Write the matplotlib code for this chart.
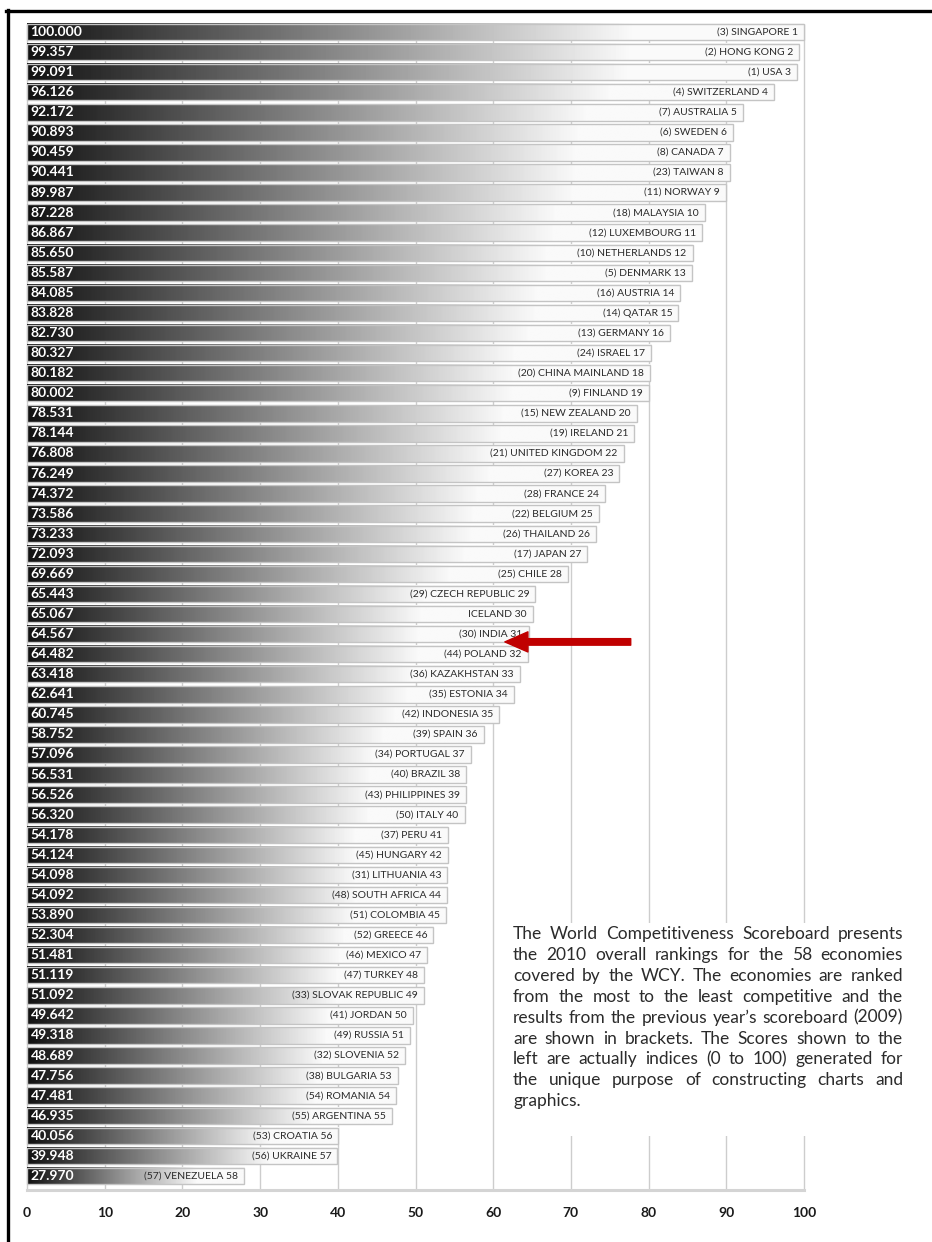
import numpy as np
import matplotlib
matplotlib.use("Agg")
import matplotlib.pyplot as plt
from matplotlib.patches import Rectangle
from matplotlib.lines import Line2D

plt.rcParams['font.family'] = ['Lato', 'DejaVu Sans']

# 2010 WCY overall scoreboard
scores = [100.000, 99.357, 99.091, 96.126, 92.172, 90.893, 90.459, 90.441, 89.987, 87.228,
          86.867, 85.650, 85.587, 84.085, 83.828, 82.730, 80.327, 80.182, 80.002, 78.531,
          78.144, 76.808, 76.249, 74.372, 73.586, 73.233, 72.093, 69.669, 65.443, 65.067,
          64.567, 64.482, 63.418, 62.641, 60.745, 58.752, 57.096, 56.531, 56.526, 56.320,
          54.178, 54.124, 54.098, 54.092, 53.890, 52.304, 51.481, 51.119, 51.092, 49.642,
          49.318, 48.689, 47.756, 47.481, 46.935, 40.056, 39.948, 27.970]
countries = ["SINGAPORE", "HONG KONG", "USA", "SWITZERLAND", "AUSTRALIA", "SWEDEN", "CANADA",
             "TAIWAN", "NORWAY", "MALAYSIA", "LUXEMBOURG", "NETHERLANDS", "DENMARK", "AUSTRIA",
             "QATAR", "GERMANY", "ISRAEL", "CHINA MAINLAND", "FINLAND", "NEW ZEALAND", "IRELAND",
             "UNITED KINGDOM", "KOREA", "FRANCE", "BELGIUM", "THAILAND", "JAPAN", "CHILE",
             "CZECH REPUBLIC", "ICELAND", "INDIA", "POLAND", "KAZAKHSTAN", "ESTONIA", "INDONESIA",
             "SPAIN", "PORTUGAL", "BRAZIL", "PHILIPPINES", "ITALY", "PERU", "HUNGARY", "LITHUANIA",
             "SOUTH AFRICA", "COLOMBIA", "GREECE", "MEXICO", "TURKEY", "SLOVAK REPUBLIC", "JORDAN",
             "RUSSIA", "SLOVENIA", "BULGARIA", "ROMANIA", "ARGENTINA", "CROATIA", "UKRAINE",
             "VENEZUELA"]
# 2009 rank in brackets (Iceland had none)
prev_ranks = [3, 2, 1, 4, 7, 6, 8, 23, 11, 18, 12, 10, 5, 16, 14, 13, 24, 20, 9, 15, 19, 21,
              27, 28, 22, 26, 17, 25, 29, None, 30, 44, 36, 35, 42, 39, 34, 40, 43, 50, 37, 45,
              31, 48, 51, 52, 46, 47, 33, 41, 49, 32, 38, 54, 55, 53, 56, 57]

ticks = list(range(0, 101, 10))

blurb_lines = [
    "The World Competitiveness Scoreboard presents",
    "the 2010 overall rankings for the 58 economies",
    "covered by the WCY. The economies are ranked",
    "from the most to the least competitive and the",
    "results from the previous year\u2019s scoreboard (2009)",
    "are shown in brackets. The Scores shown to the",
    "left are actually indices (0 to 100) generated for",
    "the unique purpose of constructing charts and",
    "graphics.",
]

W, H = 932, 1242
fig = plt.figure(figsize=(W / 100, H / 100), dpi=100)
ax = fig.add_axes([27 / W, 1 - 1190 / H, 777 / W, 1168 / H])

rows = np.arange(len(scores))
bar_h = 0.82
y_top, y_bot = -0.498, 57.7

# dark-to-white ramp, stretched over each bar
ramp = np.clip(0.07 + 0.93 * np.linspace(0, 1, 256) / 0.8, 0, 0.98)[None, :]
for y, v in zip(rows, scores):
    ax.imshow(ramp, extent=(0, v, y + bar_h / 2, y - bar_h / 2), aspect='auto',
              cmap='gray', vmin=0, vmax=1, interpolation='bilinear', zorder=2)
ax.barh(rows, scores, height=bar_h, fill=False, edgecolor='#c4c4c4', linewidth=1,
        zorder=3, clip_on=False)

# grid
ax.vlines(ticks, -bar_h / 2, y_bot, colors='#cdcdcd', linewidth=1, zorder=1, clip_on=False)
ax.add_patch(Rectangle((62, 44.4), 45, 10.6, facecolor='white', edgecolor='none',
                       zorder=1.5, clip_on=False))

for y, v, name, p in zip(rows, scores, countries, prev_ranks):
    ax.text(0.45, y, f"{v:.3f}", color='white', fontweight='bold', fontsize=10,
            va='center', ha='left', zorder=4)
    lab = f"({p}) {name} {y + 1}" if p else f"{name} {y + 1}"
    ax.text(v - 0.8, y, lab, fontsize=7.5, color='#2a2a2a', va='center', ha='right', zorder=4)

# arrow pointing to India
ax.annotate('', xy=(61.5, 30.39), xytext=(77.7, 30.39),
            arrowprops=dict(arrowstyle='simple,head_length=1.66,head_width=1.45,tail_width=0.47',
                            mutation_scale=10, color='#c00000', shrinkA=0, shrinkB=0),
            zorder=5)

ax.set_xlim(0, 100)
ax.set_ylim(y_bot, y_top)
for s in ['top', 'right', 'left']:
    ax.spines[s].set_visible(False)
ax.spines['bottom'].set_color('#d4d4d4')
ax.spines['bottom'].set_linewidth(2.2)
ax.set_yticks([])
ax.set_xticks(ticks)
ax.tick_params(axis='x', length=0, pad=12, labelsize=10, labelcolor='#1a1a1a')
for lbl in ax.get_xticklabels():
    lbl.set_fontweight('bold')

# page frame
fig.add_artist(Line2D([6 / W, 1], [1 - 11 / H] * 2, color='black', lw=2.4))
fig.add_artist(Line2D([7.5 / W] * 2, [0, 1 - 10 / H], color='black', lw=2.4))

# justified note
renderer = fig.canvas.get_renderer()
x0, x1 = 513, 903
for k, line in enumerate(blurb_lines):
    yy = 1 - (939 + 20.9 * k) / H
    kw = dict(fontsize=12.5, color='#2b2b2b', va='baseline', ha='left')
    if k == len(blurb_lines) - 1:
        fig.text(x0 / W, yy, line, **kw)
        continue
    words = line.split()
    arts = [fig.text(0, yy, w, **kw) for w in words]
    widths = [a.get_window_extent(renderer).width for a in arts]
    gap = (x1 - x0 - sum(widths)) / (len(words) - 1)
    x = x0
    for a, w in zip(arts, widths):
        a.set_x(x / W)
        x += w + gap

fig.savefig('out.png', dpi=100)
